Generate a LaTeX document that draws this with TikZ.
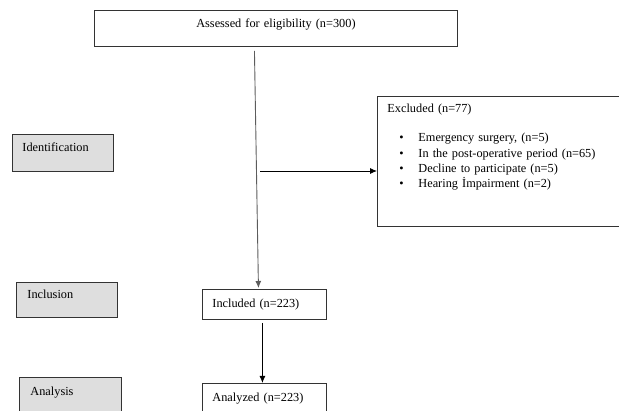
\documentclass[tikz,border=0pt]{standalone}
\usepackage{fontspec}
\setmainfont{Liberation Serif}
\usetikzlibrary{arrows.meta,calc}
\definecolor{phasegray}{rgb}{0.87,0.87,0.87}
\definecolor{edgegray}{rgb}{0.2,0.2,0.2}

\tikzset{
  box/.style={draw=edgegray,line width=0.9pt,anchor=north west,inner ysep=0pt,
    align=left,font=\fontsize{12.3}{15.3}\selectfont},
  phase/.style={box,fill=phasegray}
}

\begin{document}
\begin{tikzpicture}[x=1pt,y=-1pt,>={Latex[length=7pt,width=6pt]},line width=0.9pt]
\useasboundingbox (0,0) rectangle (619,411);
\clip (0,0) rectangle (619,411);

% flow boxes
\node[box,align=center,inner xsep=0pt,text width=363pt,text height=17pt,text depth=19pt]
	(assess) at (94,10) {Assessed for eligibility (n=300)};
\node[box,inner xsep=10pt,text width=243pt,text height=16pt,text depth=114pt]
	(excl) at (377,96) {Excluded (n=77)\\[14pt]
	\hspace*{12pt}\makebox[19pt][l]{\textbullet}Emergency surgery, (n=5)\\
	\hspace*{12pt}\makebox[19pt][l]{\textbullet}In the post-operative period (n=65)\\
	\hspace*{12pt}\makebox[19pt][l]{\textbullet}Decline to participate (n=5)\\
	\hspace*{12pt}\makebox[19pt][l]{\textbullet}Hearing İmpairment (n=2)};
\node[box,inner xsep=10pt,text width=104pt,text height=18pt,text depth=12pt]
	(included) at (202,289) {Included (n=223)};
\node[box,inner xsep=10pt,text width=104pt,text height=18pt,text depth=19pt]
	(analyzed) at (202,383) {Analyzed (n=223)};

% phase labels
\node[phase,inner xsep=10pt,text width=81pt,text height=17pt,text depth=20pt]
	(ident) at (12,134) {Identification};
\node[phase,inner xsep=11pt,text width=79pt,text height=16pt,text depth=19pt]
	(inclu) at (16,282) {Inclusion};
\node[phase,inner xsep=11pt,text width=80pt,text height=18pt,text depth=25pt]
	(anal) at (19,377) {Analysis};

% connectors
\draw[->,edgegray!80] ($(assess.south)+(-21.5,4)$) -- ($(included.north)+(-6,-1)$);
\coordinate (split) at (260,171);
\draw[->] (split) -- (split -| excl.west);
\draw[->] ($(included.south)+(-2,3)$) -- ($(analyzed.north)+(-2,0)$);
\end{tikzpicture}
\end{document}
